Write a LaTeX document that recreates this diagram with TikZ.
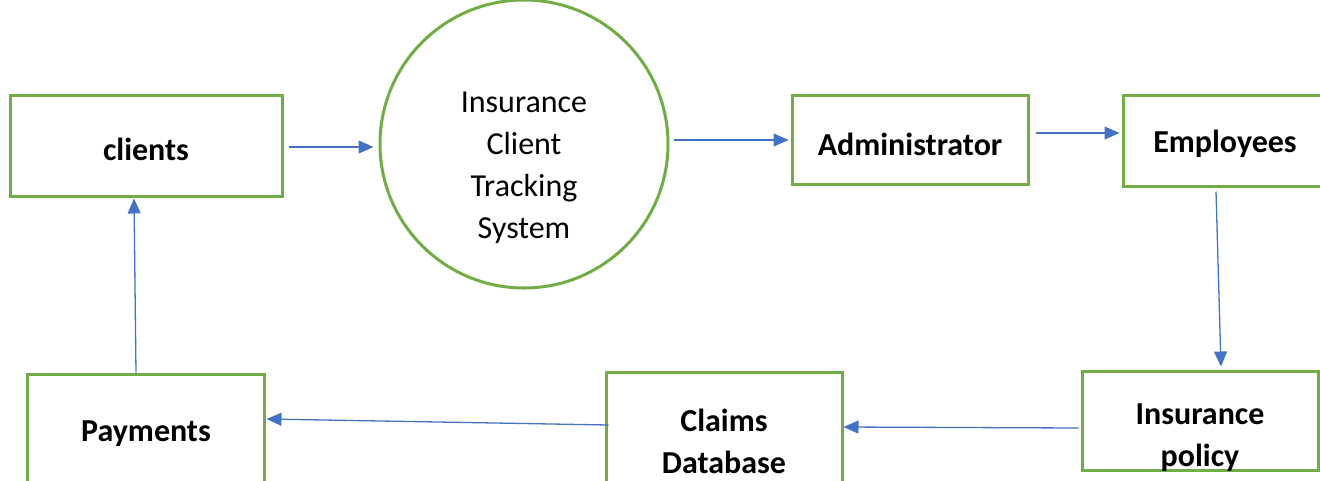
\documentclass[tikz,border=0pt]{standalone}
\usepackage{fontspec}
\setmainfont{Carlito}
\usetikzlibrary{arrows.meta,calc}
\definecolor{boxgreen}{HTML}{70AD47}
\definecolor{flowblue}{HTML}{4472C4}
\begin{document}
\begin{tikzpicture}[x=1pt,y=-1pt,
  box/.style={draw=boxgreen, line width=3pt, fill=white, inner sep=0pt},
  proc/.style={draw=boxgreen, line width=3pt, fill=white, circle, inner sep=0pt, minimum size=288pt},
  boxlabel/.style={font=\fontsize{32}{42}\selectfont\bfseries, align=center, inner sep=0pt},
  proclabel/.style={font=\fontsize{32}{42}\selectfont, align=center, inner sep=0pt},
  flow/.style={draw=flowblue, line width=1.3pt, -{Triangle[length=15pt,width=13pt]}}]
\useasboundingbox (0,0) rectangle (1320,480);
\clip (0,0) rectangle (1320,480);

% shapes
\node[box, minimum width=272pt, minimum height=101pt] (clients) at (146,145.5) {};
\node[proc] (sys) at (524,144) {};
\node[box, minimum width=236pt, minimum height=89pt] (admin) at (910,139.5) {};
\node[box, minimum width=236pt, minimum height=91pt] (emp) at (1241,140.5) {};
\node[box, minimum width=236pt, minimum height=99pt] (policy) at (1200,420.5) {};
\node[box, minimum width=236pt, minimum height=130pt] (claims) at (724,437) {};
\node[box, minimum width=237pt, minimum height=126pt] (payments) at (145.5,437) {};

% labels
\node[boxlabel] (clientsT) at (146,149) {clients};
\node[proclabel] (sysT) at (524,167.5) {Insurance\\Client\\Tracking\\System};
\node[boxlabel] (adminT) at (910,144) {Administrator};
\node[boxlabel] (empT) at (1225,144) {Employees};
\node[boxlabel] (policyT) at (1200,438) {Insurance\\policy};
\node[boxlabel] (claimsT) at (724,441) {Claims\\Database};
\node[boxlabel] (paymentsT) at (146,434) {Payments};

% data flows
\draw[flow] ($(clients.east)+(5,1.5)$) -- ($(sys.west)+(-5,3)$);
\draw[flow] ($(sys.east)+(4,-4)$) -- ($(admin.west)+(-2,0.5)$);
\draw[flow] ($(admin.east)+(6,-6.5)$) -- ($(emp.west)+(-2,-7.5)$);
\draw[flow] ($(emp.south)+(-25,4)$) -- ($(policy.north)+(21,-3)$);
\draw[flow] ($(policy.west)+(-2,7.5)$) -- ($(claims.east)+(0,-10)$);
\draw[flow] ($(claims.west)+(4,-12)$) -- ($(payments.east)+(1,-18)$);
\draw[flow] ($(payments.north)+(-9.5,0)$) -- ($(clients.south)+(-12,1)$);
\end{tikzpicture}
\end{document}
